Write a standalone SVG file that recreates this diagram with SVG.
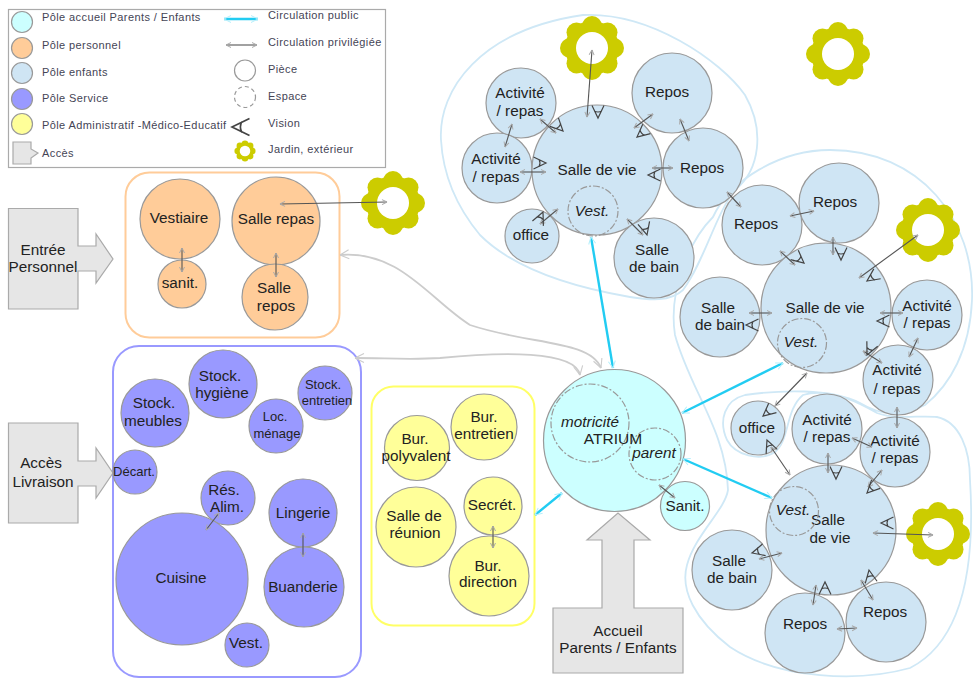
<svg xmlns="http://www.w3.org/2000/svg" width="973" height="678" viewBox="0 0 973 678">
<defs>
<g id="fl"><circle cx="0" cy="0" r="27" fill="#cccc00"/><circle cx="0" cy="-22" r="10" fill="#cccc00"/><circle cx="15.500" cy="-15.500" r="10" fill="#cccc00"/><circle cx="22" cy="0" r="10" fill="#cccc00"/><circle cx="15.500" cy="15.500" r="10" fill="#cccc00"/><circle cx="0" cy="22" r="10" fill="#cccc00"/><circle cx="-15.500" cy="15.500" r="10" fill="#cccc00"/><circle cx="-22" cy="0" r="10" fill="#cccc00"/><circle cx="-15.500" cy="-15.500" r="10" fill="#cccc00"/><circle cx="0" cy="0" r="16" fill="#fff"/></g>
<path id="v" d="M-6,-12.500 L0,0 L6,-12.500 M-3.800,-7 Q0,-5 3.800,-7" fill="none" stroke="#444" stroke-width="1.200"/>
<marker id="a" markerWidth="7" markerHeight="7" refX="6" refY="3.500" orient="auto-start-reverse" markerUnits="userSpaceOnUse"><path d="M6,3.500 L1,1 M6,3.500 L1,6" fill="none" stroke="#aaa" stroke-width="1"/></marker>
<marker id="ac" markerWidth="10" markerHeight="10" refX="9" refY="5" orient="auto-start-reverse" markerUnits="userSpaceOnUse"><path d="M9,5 L2,1.500 M9,5 L2,8.500" fill="none" stroke="#b5effb" stroke-width="1"/></marker>
<marker id="ag" markerWidth="12" markerHeight="12" refX="11" refY="6" orient="auto-start-reverse" markerUnits="userSpaceOnUse"><path d="M11,6 L2,1.500 M11,6 L2,10.500" fill="none" stroke="#ccc" stroke-width="1.100"/></marker>
</defs>
<style>
text{font-family:"Liberation Sans",Arial,sans-serif;fill:#222;font-size:15.3px;text-anchor:middle}
.l{font-size:11px;text-anchor:start;fill:#445;letter-spacing:.4px}
.s{font-size:13px}
.i{font-style:italic}
circle.n{stroke:#999;stroke-width:1.200}
.b{fill:#cfe5f4}.o{fill:#ffcc99}.w{fill:#9999ff}.y{fill:#ffff99}.c{fill:#ccffff}
.d{fill:none;stroke:#999;stroke-width:1.200;stroke-dasharray:7 2 2 2}
.p{fill:none;stroke:#cfe8f6;stroke-width:1.800}
.k{fill:#e6e6e6;stroke:#aaa;stroke-width:1.200}
.cn{fill:none;stroke:#555;stroke-width:1.100;marker-start:url(#a);marker-end:url(#a)}
.pub{fill:none;stroke:#22ccf2;stroke-width:2.400;marker-start:url(#ac);marker-end:url(#ac)}
.pr{fill:none;stroke:#ccc;stroke-width:1.800;marker-start:url(#ag);marker-end:url(#ag)}
</style>
<g id="legend">
<rect x="8.500" y="9.500" width="377" height="158" fill="#fff" stroke="#aaa" stroke-width="1.200"/>
<circle cx="22" cy="22" r="10.500" class="n c"/><text class="l" x="42" y="21">Pôle accueil Parents / Enfants</text>
<circle cx="22" cy="48" r="10.500" class="n o"/><text class="l" x="42" y="49">Pôle personnel</text>
<circle cx="22" cy="73" r="10.500" class="n b"/><text class="l" x="42" y="76">Pôle enfants</text>
<circle cx="22" cy="99" r="10.500" class="n w"/><text class="l" x="42" y="102">Pôle Service</text>
<circle cx="22" cy="124" r="10.500" class="n y"/><text class="l" x="42" y="129">Pôle Administratif -Médico-Educatif</text>
<path class="k" d="M13,142 H31 V149 L38,153 L31,158 V164 H13 Z"/><text class="l" x="42" y="157">Accès</text>
<path class="pub" d="M224,19 H258"/><text class="l" x="268" y="19">Circulation public</text>
<path class="cn" d="M226,45 H257"/><text class="l" x="268" y="46">Circulation privilégiée</text>
<circle cx="245" cy="70.500" r="10.500" fill="#fff" class="n"/><text class="l" x="268" y="73">Pièce</text>
<circle cx="245" cy="97" r="10.500" class="d" style="stroke-dasharray:4 3"/><text class="l" x="268" y="100">Espace</text>
<use href="#v" transform="translate(232,127) rotate(90) scale(1.400)"/><text class="l" x="268" y="127">Vision</text>
<use href="#fl" transform="translate(245,151) scale(.33)"/><text class="l" x="268" y="153">Jardin, extérieur</text>
</g>
<g id="perimeters">
<path class="p" d="M441,140 C438,90 480,30 583,15 C650,12 720,60 745,95 C765,130 760,170 735,190 C715,215 705,260 683,290 C670,302 650,300 630,297 C560,285 510,265 480,235 C455,205 443,175 441,140 Z"/>
<path class="p" d="M728,490 C726,430 690,390 675,335 C668,290 690,240 713,217 C730,180 780,150 830,150 C920,150 975,220 972,300 C970,350 950,385 925,405 C900,418 880,415 860,403 C830,388 780,390 745,395 C725,400 718,420 727,440 C735,455 760,462 775,452 C790,440 785,410 803,395 C825,388 850,397 877,413 C895,420 920,415 937,417 C960,422 970,450 970,480 C975,560 965,640 910,668 C860,682 780,680 730,647 C695,620 680,590 687,565 C695,535 725,510 728,490 Z"/>
<rect x="125.500" y="172.500" width="214" height="165" rx="24" fill="none" stroke="#ffcc99" stroke-width="2"/>
<rect x="113" y="346" width="248" height="331" rx="26" fill="none" stroke="#9999ff" stroke-width="2"/>
<rect x="371.500" y="386.500" width="163" height="239" rx="22" fill="none" stroke="#ffff66" stroke-width="2"/>
</g>
<g id="access">
<g id="a-acc"><path class="k" d="M553,673 V608 H602 V540 H587 L618,513 L650,540 H634 V608 H683 V673 Z"/><text x="618" y="636">Accueil</text><text x="618" y="653">Parents / Enfants</text></g>
<g id="a-ent"><path class="k" d="M8.500,208.500 H78 V246 H96 V234 L113,259 L96,283 V271 H78 V309 H8.500 Z"/><text x="43" y="255">Entrée</text><text x="43" y="272">Personnel</text></g>
<g id="a-liv"><path class="k" d="M8.500,423 H78 V461 H96 V448 L113,473 L96,498 V486 H78 V523 H8.500 Z"/><text x="41" y="468">Accès</text><text x="43" y="487">Livraison</text></g>
</g>
<g id="gardens">
<use id="j1" href="#fl" transform="translate(393,203)"/>
<use id="j2" href="#fl" transform="translate(592,48)"/>
<use id="j3" href="#fl" transform="translate(838,54)"/>
<use id="j4" href="#fl" transform="translate(928,230)"/>
<use id="j5" href="#fl" transform="translate(938,534)"/>
</g>
<g id="n-atrium"><circle cx="614.500" cy="440.500" r="71" class="n c"/><circle cx="590" cy="423" r="39" class="d"/><circle cx="655" cy="454" r="26" class="d"/><text x="613" y="444" style="font-size:15.500px">ATRIUM</text><text class="i" x="590" y="427">motricité</text><text class="i" x="654" y="458">parent</text></g>
<g id="n-sanit-a"><circle cx="685" cy="506" r="24.500" class="n c"/><text x="685" y="511">Sanit.</text></g>
<g id="n-vestiaire"><circle cx="180" cy="219" r="40" class="n o"/><text x="179" y="223">Vestiaire</text></g>
<g id="n-sanit"><circle cx="182" cy="284" r="24" class="n o"/><text x="180" y="288">sanit.</text></g>
<g id="n-srepas"><circle cx="276" cy="221" r="44" class="n o"/><text x="276" y="224">Salle repas</text></g>
<g id="n-srepos"><circle cx="275" cy="297" r="33" class="n o"/><text x="274" y="293">Salle</text><text x="276" y="311">repos</text></g>
<g id="n-meubles"><circle cx="155" cy="413" r="34" class="n w"/><text x="154" y="408">Stock.</text><text x="153" y="426">meubles</text></g>
<g id="n-hygiene"><circle cx="223" cy="384" r="34" class="n w"/><text x="220" y="381">Stock.</text><text x="222" y="398">hygiène</text></g>
<g id="n-entretien"><circle cx="325" cy="393" r="27" class="n w"/><text class="s" x="323" y="389">Stock.</text><text class="s" x="327" y="405">entretien</text></g>
<g id="n-menage"><circle cx="276" cy="426" r="27" class="n w"/><text class="s" x="275" y="421">Loc.</text><text class="s" x="277" y="438">ménage</text></g>
<g id="n-decart"><circle cx="135" cy="472" r="22" class="n w"/><text class="s" x="134" y="476">Décart.</text></g>
<g id="n-res"><circle cx="228" cy="498" r="27" class="n w"/><text x="224" y="495">Rés.</text><text x="227" y="512">Alim.</text></g>
<g id="n-lingerie"><circle cx="303" cy="513" r="34" class="n w"/><text x="303" y="518">Lingerie</text></g>
<g id="n-cuisine"><circle cx="182" cy="579" r="66" class="n w"/><text x="181" y="583">Cuisine</text></g>
<g id="n-buanderie"><circle cx="304" cy="587" r="40" class="n w"/><text x="303" y="592">Buanderie</text></g>
<g id="n-vest"><circle cx="247" cy="645" r="22" class="n w"/><text x="246" y="648">Vest.</text></g>
<g id="n-poly"><circle cx="417" cy="448" r="32.500" class="n y"/><text x="415" y="444">Bur.</text><text x="416" y="461">polyvalent</text></g>
<g id="n-bentretien"><circle cx="484" cy="427" r="33" class="n y"/><text x="484" y="422">Bur.</text><text x="484" y="439">entretien</text></g>
<g id="n-reunion"><circle cx="416" cy="527" r="40" class="n y"/><text x="414" y="521">Salle de</text><text x="415" y="538">réunion</text></g>
<g id="n-secret"><circle cx="493" cy="506" r="29" class="n y"/><text x="492" y="510">Secrét.</text></g>
<g id="n-direction"><circle cx="489" cy="576" r="40" class="n y"/><text x="488" y="571">Bur.</text><text x="488" y="587">direction</text></g>
<g id="z1">
<g id="z1-a1"><circle cx="521" cy="103" r="35" class="n b"/><text x="520" y="98">Activité</text><text x="520" y="116">/ repas</text></g>
<g id="z1-a2"><circle cx="497" cy="168" r="35" class="n b"/><text x="496" y="164">Activité</text><text x="496" y="182">/ repas</text></g>
<g id="z1-sv"><circle cx="597" cy="170" r="65" class="n b"/><text x="597" y="175">Salle de vie</text><circle cx="593" cy="211" r="25" class="d"/><text class="i" x="592" y="216">Vest.</text></g>
<g id="z1-of"><circle cx="532" cy="236" r="27" class="n b"/><text x="531" y="240">office</text></g>
<g id="z1-r1"><circle cx="672" cy="93" r="40" class="n b"/><text x="667" y="97">Repos</text></g>
<g id="z1-r2"><circle cx="703" cy="168" r="40" class="n b"/><text x="702" y="173">Repos</text></g>
<g id="z1-sb"><circle cx="654" cy="258" r="40" class="n b"/><text x="652" y="255">Salle</text><text x="654" y="272">de bain</text></g>
</g>
<g id="z2">
<g id="z2-r1"><circle cx="762" cy="225" r="40" class="n b"/><text x="756" y="229">Repos</text></g>
<g id="z2-r2"><circle cx="839" cy="203" r="40" class="n b"/><text x="835" y="207">Repos</text></g>
<g id="z2-sb"><circle cx="720" cy="317" r="40" class="n b"/><text x="718" y="313">Salle</text><text x="720" y="330">de bain</text></g>
<g id="z2-sv"><circle cx="826" cy="308" r="65" class="n b"/><text x="825" y="313">Salle de vie</text><circle cx="802" cy="343" r="24.500" class="d"/><text class="i" x="801" y="347">Vest.</text></g>
<g id="z2-a1"><circle cx="927" cy="315" r="35" class="n b"/><text x="927" y="311">Activité</text><text x="927" y="328">/ repas</text></g>
<g id="z2-a2"><circle cx="898" cy="380" r="35" class="n b"/><text x="897" y="375">Activité</text><text x="897" y="394">/ repas</text></g>
</g>
<g id="z3">
<g id="z3-of"><circle cx="758" cy="428" r="27" class="n b"/><text x="757" y="433">office</text></g>
<g id="z3-a1"><circle cx="827" cy="429" r="35" class="n b"/><text x="827" y="425">Activité</text><text x="827" y="442">/ repas</text></g>
<g id="z3-a2"><circle cx="895" cy="452" r="35" class="n b"/><text x="895" y="446">Activité</text><text x="895" y="463">/ repas</text></g>
<g id="z3-sv"><circle cx="831" cy="530" r="65" class="n b"/><text x="828" y="525">Salle</text><text x="830" y="543">de vie</text><circle cx="794" cy="511" r="24.500" class="d"/><text class="i" x="793" y="515">Vest.</text></g>
<g id="z3-sb"><circle cx="732" cy="570" r="40" class="n b"/><text x="729" y="566">Salle</text><text x="732" y="583">de bain</text></g>
<g id="z3-r1"><circle cx="805" cy="633" r="40" class="n b"/><text x="805" y="629">Repos</text></g>
<g id="z3-r2"><circle cx="886" cy="622" r="40" class="n b"/><text x="885" y="617">Repos</text></g>
</g>
<g id="connectors">
<path class="pr" d="M340,255 C400,250 430,300 470,325 C530,345 590,340 601,368"/>
<path class="pr" d="M355,358 C385,358 410,360 440,358 C500,352 575,350 580,375"/>
<path class="pub" d="M591,237 L613,368"/>
<path class="pub" d="M682,413 L783,363"/>
<path class="pub" d="M683,459 L772,498"/>
<path class="pub" d="M562,493 L535,515"/>
<path class="cn" d="M675,498 L659,485"/>
<path class="cn" d="M182,248 V272"/><path class="cn" d="M276,253 V277"/>
<path class="cn" d="M387,202 L280,204"/>
<path class="cn" d="M219,513 L206,530"/><path class="cn" d="M303,533 V557"/>
<path class="cn" d="M493,526 V548"/>
<path class="cn" d="M592,50 L587,117"/><path class="cn" d="M540,119 L556,133"/><path class="cn" d="M512,124 L505,147"/><path class="cn" d="M520,172 H546"/><path class="cn" d="M540,224 L558,209"/><path class="cn" d="M634,128 L653,114"/><path class="cn" d="M680,119 L689,141"/><path class="cn" d="M652,168 H673"/><path class="cn" d="M627,219 L643,235"/>
<path class="cn" d="M727,192 L741,207"/><path class="cn" d="M790,216 L814,211"/><path class="cn" d="M780,251 L795,265"/><path class="cn" d="M833,237 V255"/><path class="cn" d="M918,235 L859,278"/><path class="cn" d="M880,313 H903"/><path class="cn" d="M918,338 L909,357"/><path class="cn" d="M863,351 L882,363"/><path class="cn" d="M749,313 H772"/><path class="cn" d="M897,407 V428"/><path class="cn" d="M807,373 L775,406"/>
<path class="cn" d="M790,475 L771,447"/><path class="cn" d="M828,453 V473"/><path class="cn" d="M852,438 L872,447"/><path class="cn" d="M882,470 L868,487"/><path class="cn" d="M933,535 L873,533"/><path class="cn" d="M759,559 L782,553"/><path class="cn" d="M813,605 L816,585"/><path class="cn" d="M873,600 L861,580"/><path class="cn" d="M837,629 L857,628"/>
</g>
<g id="visions">
<use href="#v" transform="translate(598,118)"/><use href="#v" transform="translate(563,131) rotate(-45)"/><use href="#v" transform="translate(546,163) rotate(-90)"/><use href="#v" transform="translate(543,212) rotate(-156)"/><use href="#v" transform="translate(637,137) rotate(50)"/><use href="#v" transform="translate(648,175) rotate(90)"/><use href="#v" transform="translate(647,235) rotate(-15)"/>
<use href="#v" transform="translate(804,263) rotate(-50)"/><use href="#v" transform="translate(841,260)"/><use href="#v" transform="translate(867,281) rotate(55)"/><use href="#v" transform="translate(877,321) rotate(90)"/><use href="#v" transform="translate(867,355) rotate(25)"/><use href="#v" transform="translate(746,325) rotate(90)"/><use href="#v" transform="translate(763,416) rotate(50)"/>
<use href="#v" transform="translate(767,440) rotate(158)"/><use href="#v" transform="translate(836,479)"/><use href="#v" transform="translate(867,493) rotate(45)"/><use href="#v" transform="translate(881,523) rotate(90)"/><use href="#v" transform="translate(752,553) rotate(75)"/><use href="#v" transform="translate(825,582) rotate(180)"/><use href="#v" transform="translate(869,570) rotate(170)"/>
</g>
</svg>
